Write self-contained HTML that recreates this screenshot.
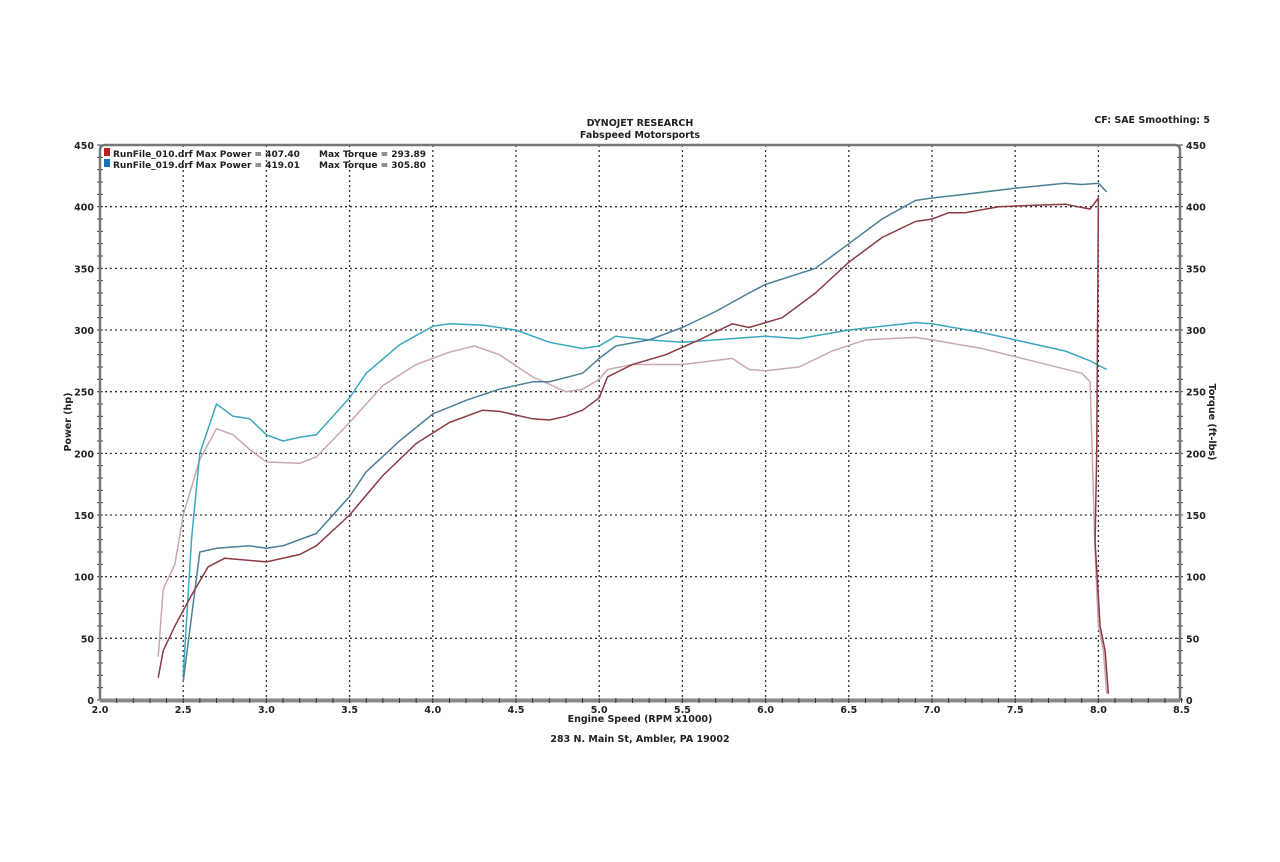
<!DOCTYPE html>
<html><head><meta charset="utf-8"><style>
body{margin:0;background:#fff;}
svg text{font-family:"DejaVu Sans","Liberation Sans",sans-serif;font-weight:bold;fill:#222;}
</style></head><body>
<svg id="s" width="1280" height="857" xmlns="http://www.w3.org/2000/svg">
<text x="640" y="126" font-size="9.5" text-anchor="middle">DYNOJET RESEARCH</text>
<text x="640" y="138" font-size="9.5" text-anchor="middle">Fabspeed Motorsports</text>
<text x="1210" y="123" font-size="9.5" text-anchor="end">CF: SAE  Smoothing: 5</text>
<text x="640" y="722" font-size="9.5" text-anchor="middle">Engine Speed (RPM x1000)</text>
<text x="640" y="742" font-size="9.5" text-anchor="middle">283 N. Main St, Ambler, PA 19002</text>
<text transform="translate(71,422) rotate(-90)" font-size="9.5" text-anchor="middle">Power (hp)</text>
<text transform="translate(1209,422) rotate(90)" font-size="9.5" text-anchor="middle">Torque (ft-lbs)</text>
<g id="g"></g>
<rect x="104" y="148" width="6" height="8" fill="#b22"/>
<rect x="104" y="159" width="6" height="8" fill="#1a6fc0"/>
<text x="113" y="157" font-size="9">RunFile_010.drf Max Power = 407.40</text>
<text x="319" y="157" font-size="9">Max Torque = 293.89</text>
<text x="113" y="168" font-size="9">RunFile_019.drf Max Power = 419.01</text>
<text x="319" y="168" font-size="9">Max Torque = 305.80</text>
</svg>
<script>
var X=r=>100+(r-2)*166.4, Y=v=>700-v*1.2333;
var g=document.getElementById('g'),h='';
for(var i=1;i<=12;i++){var x=X(2+i*0.5);h+='<line x1="'+x+'" y1="145" x2="'+x+'" y2="700" stroke="#333" stroke-width="1.3" stroke-dasharray="2,3"/>';}
for(var v=50;v<=400;v+=50){h+='<line x1="100" y1="'+Y(v)+'" x2="1180" y2="'+Y(v)+'" stroke="#333" stroke-width="1.3" stroke-dasharray="2,3"/>';}
for(var v=0;v<=450;v+=50){h+='<text x="94" y="'+(Y(v)+4)+'" font-size="9.5" text-anchor="end">'+v+'</text><text x="1186" y="'+(Y(v)+4)+'" font-size="9.5">'+v+'</text>';}
for(var i=0;i<=13;i++){var r=2+i*0.5;h+='<text x="'+X(r)+'" y="713" font-size="9.5" text-anchor="middle">'+r.toFixed(1)+'</text>';}
for(var v=0;v<=450;v+=10){h+='<line x1="97" y1="'+Y(v)+'" x2="103" y2="'+Y(v)+'" stroke="#333"/><line x1="1177" y1="'+Y(v)+'" x2="1183" y2="'+Y(v)+'" stroke="#333"/>';}
h+='<path d="M100,700 V150 Q100,145 105,145 H1175 Q1180,145 1180,150 V700" fill="none" stroke="#777" stroke-width="2.5"/>';
h+='<line x1="100" y1="700.5" x2="1180" y2="700.5" stroke="#888" stroke-width="4"/>';
for(var r=2.1;r<8.5;r+=0.1){h+='<line x1="'+X(r)+'" y1="698" x2="'+X(r)+'" y2="703" stroke="#333"/>';}
function P(a,c,w){var d='';for(var i=0;i<a.length;i+=2)d+=(i?'L':'M')+X(a[i]).toFixed(1)+','+Y(a[i+1]).toFixed(1);h+='<path d="'+d+'" fill="none" stroke="'+c+'" stroke-width="'+(w||1.5)+'" stroke-linejoin="round"/>';}
P([2.35,35,2.38,90,2.45,110,2.5,150,2.6,195,2.7,220,2.8,215,2.9,203,3.0,193,3.2,192,3.3,197,3.5,225,3.7,255,3.9,272,4.1,282,4.25,287,4.4,280,4.6,262,4.8,250,4.9,252,5.0,260,5.05,268,5.2,272,5.5,272,5.8,277,5.9,268,6.0,267,6.2,270,6.4,283,6.6,292,6.9,294,7.0,292,7.3,285,7.6,275,7.9,265,7.95,258,7.98,120,8.0,60,8.03,40,8.05,5],'#c9a9ad');
P([2.5,20,2.55,130,2.6,200,2.7,240,2.8,230,2.9,228,3.0,215,3.1,210,3.2,213,3.3,215,3.5,245,3.6,265,3.8,288,4.0,303,4.1,305,4.3,304,4.5,300,4.7,290,4.9,285,5.0,287,5.1,295,5.3,292,5.5,290,5.8,293,6.0,295,6.2,293,6.5,300,6.9,306,7.0,305,7.3,298,7.5,292,7.8,283,7.95,275,8.05,268],'#3aa8bf');
P([2.5,15,2.6,120,2.7,123,2.9,125,3.0,123,3.1,125,3.3,135,3.5,165,3.6,185,3.8,210,4.0,232,4.2,243,4.4,252,4.6,258,4.7,258,4.9,265,5.0,277,5.1,287,5.3,292,5.5,302,5.7,315,5.9,330,6.0,337,6.3,350,6.5,370,6.7,390,6.9,405,7.0,407,7.2,410,7.5,415,7.8,419,7.9,418,8.0,419,8.05,412],'#4a7f96');
P([2.35,18,2.38,40,2.45,60,2.55,85,2.65,108,2.75,115,3.0,112,3.2,118,3.3,125,3.5,150,3.7,182,3.9,208,4.1,225,4.3,235,4.4,234,4.6,228,4.7,227,4.8,230,4.9,235,5.0,245,5.05,262,5.2,272,5.4,280,5.6,292,5.8,305,5.9,302,6.1,310,6.3,330,6.5,355,6.7,375,6.9,388,7.0,390,7.1,395,7.2,395,7.4,400,7.6,401,7.8,402,7.95,398,8.0,407,7.99,200,7.98,128,8.01,60,8.04,40,8.06,5],'#8b3a44');
g.innerHTML=h;
</script>
</body></html>
